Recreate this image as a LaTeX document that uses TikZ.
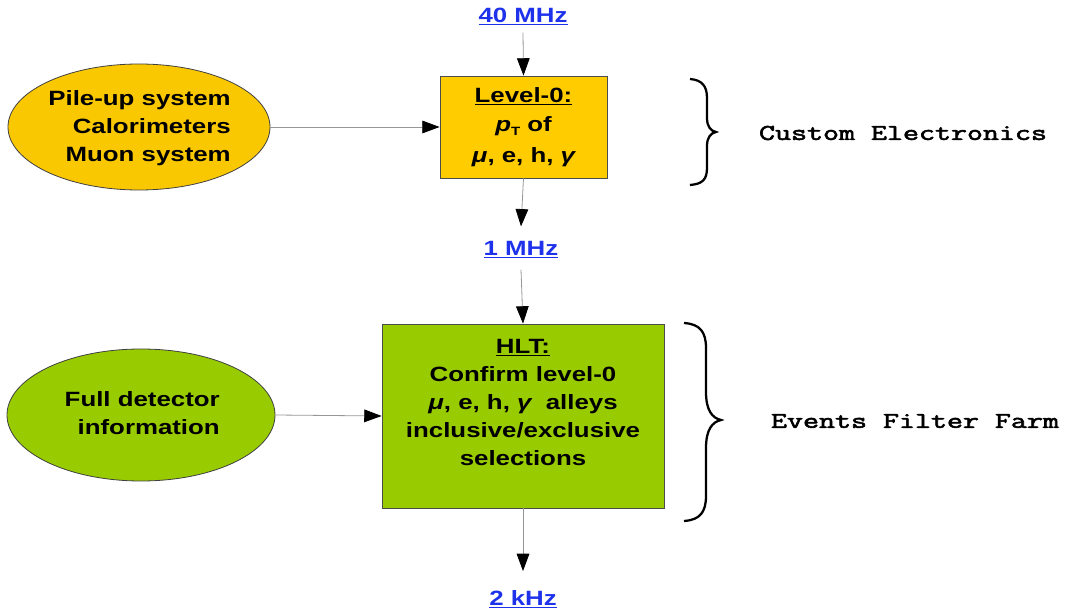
\documentclass[tikz,border=0pt]{standalone}
\usepackage{fontspec}
\setmainfont{Liberation Sans}
\newfontfamily\courbold{Latin Modern Mono}[FakeBold=2.2]
\usetikzlibrary{arrows.meta,shapes.geometric}
\definecolor{gold}{RGB}{255,204,0}
\definecolor{goldell}{RGB}{250,200,0}
\definecolor{lime}{RGB}{153,204,0}
\definecolor{linkblue}{RGB}{30,50,235}
\definecolor{conn}{RGB}{150,150,150}
\newcommand\wtxt[2][1.25]{\scalebox{#1}[1]{\begin{tabular}{@{}c@{}}#2\end{tabular}}}
\newcommand\wtxtr[2][1.25]{\scalebox{#1}[1]{\begin{tabular}{@{}r@{}}#2\end{tabular}}}
\newcommand\sansbig{\fontsize{15.5}{21}\selectfont\bfseries}
\newcommand\gk[1]{{\itshape #1}}
\tikzset{
  stage/.style={draw=black!70, line width=0.6pt, inner sep=0pt, font=\sansbig},
  source/.style={ellipse, draw=black!75, line width=0.6pt, inner sep=0pt, font=\sansbig},
  rate/.style={text=linkblue, font=\sansbig, inner sep=1pt},
  note/.style={font=\courbold\fontsize{17}{20}\selectfont, inner sep=0pt},
  conn/.style={draw=conn, line width=0.6pt, -{Triangle[length=13pt,width=9.5pt,color=black]}},
  brace/.style={draw=black, line width=1.7pt}
}
\begin{document}
\begin{tikzpicture}[x=0.75pt,y=-0.75pt]
\useasboundingbox (0,0) rectangle (1065,616);

% nodes
\node[rate] (f40) at (523,17) {\wtxt{\underline{40 MHz}}};
\node[stage, fill=gold, minimum width=125.25pt, minimum height=76.5pt] (l0) at (523.5,127)
  {\wtxt{\underline{Level-0:}\\[1pt] \gk{p}\raisebox{-0.35ex}{\fontsize{9}{9}\selectfont T} of\\[2pt] \gk{μ}, e, h, \gk{γ}}};
\node[source, fill=goldell, minimum width=196.5pt, minimum height=94.5pt] (e1) at (139,127)
  {};
\node[font=\sansbig, inner sep=0pt, anchor=east] (e1t) at (231,128)
  {\wtxtr{Pile-up system\\ Calorimeters\\ Muon system}};
\node[rate] (f1) at (521,250) {\wtxt{\underline{1 MHz}}};
\node[stage, fill=lime, minimum width=211.5pt, minimum height=138pt] (hlt) at (523,416)
  {\raisebox{9pt}[\height][\depth]{\wtxt{\underline{HLT:}\\ Confirm level-0\\ \gk{μ}, e, h, \gk{γ}\ \ alleys\\ inclusive/exclusive\\ selections}}};
\node[source, fill=lime, minimum width=201pt, minimum height=99pt] (e2) at (141,415)
  {};
\node[font=\sansbig, inner sep=0pt, anchor=east] (e2t) at (220,415)
  {\wtxtr{Full detector\\ information}};
\node[rate] (f2) at (523,600) {\wtxt{\underline{2 kHz}}};

\node[note] (ce) at (903,133) {\scalebox{1.37}[1]{Custom Electronics}};
\node[note] (eff) at (915,421) {\scalebox{1.37}[1]{Events Filter Farm}};

% connectors
\draw[conn] (f40.south) -- (l0.north);
\draw[conn] (l0.south) -- ([yshift=6]f1.north);
\draw[conn] ([yshift=-3]f1.south) -- (hlt.north);
\draw[conn] (hlt.south) -- ([yshift=10]f2.north);
\draw[conn] (e1.east) -- (l0.west);
\draw[conn] (e2.east) -- (hlt.west);

% braces
\draw[brace] (690,79) .. controls (702,80) and (707,86) .. (707,98) -- (707,118)
  .. controls (707,127) and (711,131) .. (716,132)
  .. controls (711,133) and (707,137) .. (707,146) -- (707,168)
  .. controls (707,180) and (702,184) .. (690,185);
\draw[brace] (684,323) .. controls (700,324) and (706,332) .. (706,348) -- (706,392)
  .. controls (706,410) and (712,418) .. (721,420)
  .. controls (712,422) and (706,430) .. (706,448) -- (706,496)
  .. controls (706,512) and (700,520) .. (684,521);
\end{tikzpicture}
\end{document}
